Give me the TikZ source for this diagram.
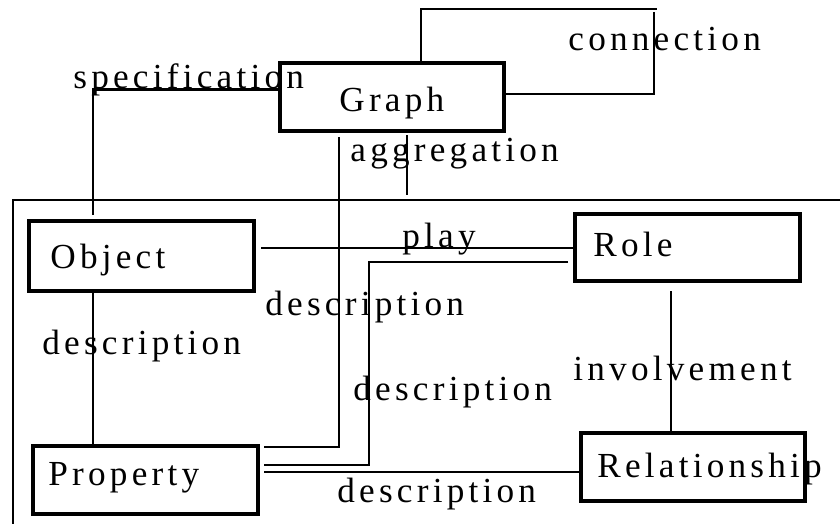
\documentclass[tikz,border=0pt]{standalone}
\usepackage{fontspec}
\setmainfont{Liberation Serif}[LetterSpace=12]
\usetikzlibrary{calc}
\begin{document}
\begin{tikzpicture}[x=0.5pt,y=-0.5pt,
  box/.style={draw,line width=2pt,rectangle,anchor=north west,inner sep=0pt},
  conn/.style={line width=1.4pt},
  thinconn/.style={line width=1.1pt},
  txt/.style={anchor=base west,inner sep=0pt,font=\fontsize{17.6}{21}\selectfont}]
\useasboundingbox (0,0) rectangle (840,524);

% entity boxes
\node[box,minimum width=112pt,minimum height=34pt]   (graph) at (278,61)  {};
\node[box,minimum width=112.5pt,minimum height=35pt] (obj)   at (27,219)  {};
\node[box,minimum width=112.5pt,minimum height=34pt] (prop)  at (31,444)  {};
\node[box,minimum width=112.5pt,minimum height=33.5pt] (role) at (573,212) {};
\node[box,minimum width=112pt,minimum height=34pt]   (rel)   at (579,431) {};

% box titles
\node[txt] (tgraph) at ($(graph.north west)+(61,51)$) {Graph};
\node[txt] (tobj)   at ($(obj.north west)+(23,49)$)   {Object};
\node[txt] (tprop)  at ($(prop.north west)+(17,41)$)  {Property};
\node[txt] (trole)  at ($(role.north west)+(20,44)$)  {Role};
\node[txt] (trel)   at ($(rel.north west)+(18,46)$)   {Relationship};

% open frame around the lower part
\coordinate (fr1) at (840,200);
\coordinate (fr2) at (13,200);
\coordinate (fr3) at (13,524);
\draw[conn] (fr1) -- (fr2) -- (fr3);

% specification
\draw[conn] ($(graph.north west)+(0,28.5)$) -| ($(obj.north west)+(66,-4)$);

% connection (self loop)
\coordinate (lp1) at (657,9);
\coordinate (lp2) at (654,12);
\draw[thinconn] ($(graph.north west)+(143,0)$) |- (lp1);
\draw[thinconn] (lp2) |- ($(graph.north east)+(0,33)$);

% aggregation
\coordinate (agg) at (407,195);
\draw[conn] ($(graph.south west)+(129,2)$) -- (agg);

% Graph -- Property description
\draw[conn] ($(graph.south west)+(61,4)$) |- ($(prop.north east)+(4,3)$);

% Role -- Property description
\coordinate (rp) at (369,465);
\draw[conn] ($(role.north west)+(-5,50)$) -| (rp) -- ($(prop.north east)+(4,21)$);

% Relationship -- Property description
\draw[conn] ($(prop.north east)+(4,28)$) -- ($(rel.north west)+(0,41)$);

% play
\draw[conn] ($(obj.north east)+(5,29)$) -- ($(role.north west)+(0,36)$);

% Object -- Property description
\draw[conn] ($(obj.south west)+(66,0)$) -- ($(prop.north west)+(62,0)$);

% involvement
\draw[conn] ($(role.south west)+(98,8)$) -- ($(rel.north west)+(92,0)$);

% relation names
\node[txt] (lspec) at (73,89)   {specification};
\node[txt] (lconn) at (568,51)  {connection};
\node[txt] (lagg)  at (350,162) {aggregation};
\node[txt] (lplay) at (402,247) {play};
\node[txt] (ld1)   at (265,315) {description};
\node[txt] (ld2)   at (42,354)  {description};
\node[txt] (ld3)   at (353,400) {description};
\node[txt] (linv)  at (573,380) {involvement};
\node[txt] (ld4)   at (337,502) {description};
\end{tikzpicture}
\end{document}
